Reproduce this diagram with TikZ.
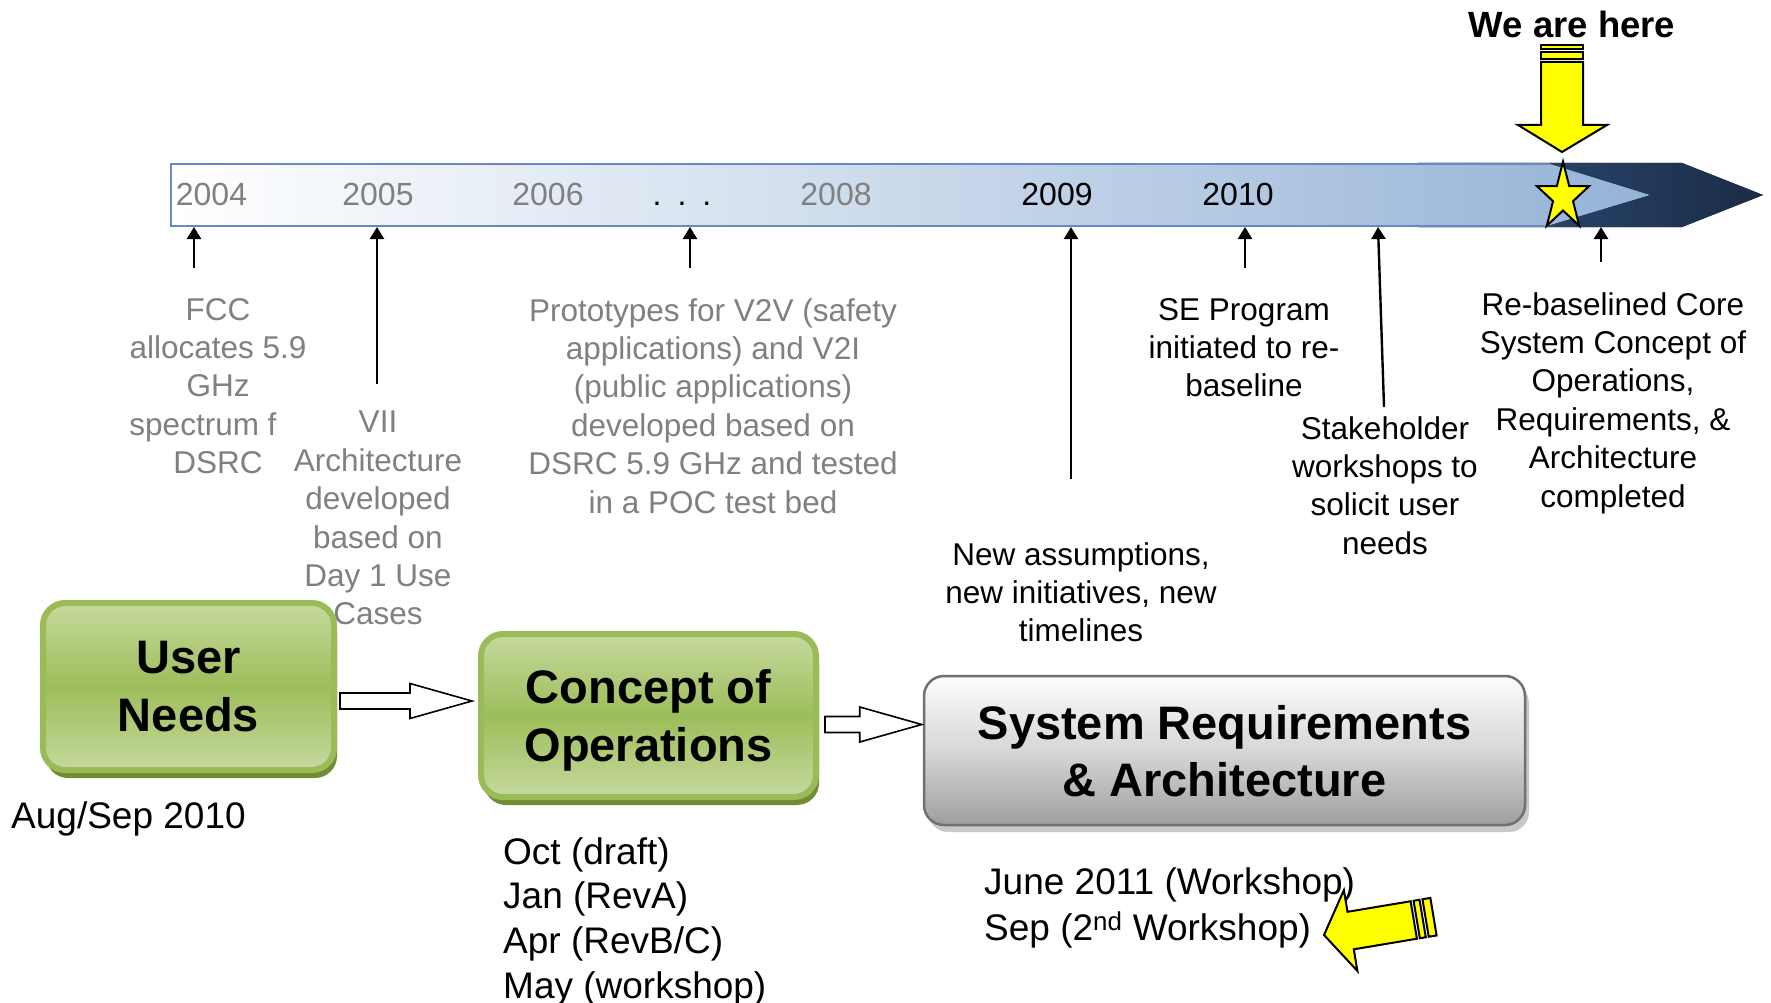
\documentclass[tikz,border=0pt]{standalone}
\usepackage{fontspec}
\setmainfont{Liberation Sans}
\usetikzlibrary{calc,arrows.meta,shadows}

\definecolor{yeargray}{RGB}{128,128,128}
\definecolor{barblue}{RGB}{149,179,215}
\definecolor{baredge}{RGB}{105,138,188}
\definecolor{darkleft}{RGB}{46,80,125}
\definecolor{darkright}{RGB}{27,44,70}
\definecolor{greenedge}{RGB}{155,187,89}
\definecolor{greenlight}{RGB}{198,217,157}
\definecolor{greenmid}{RGB}{157,189,90}
\definecolor{greenshadow}{RGB}{112,140,52}
\definecolor{boxgray}{RGB}{112,112,112}
\definecolor{graytop}{RGB}{252,252,252}
\definecolor{graymid}{RGB}{215,215,215}
\definecolor{graybottom}{RGB}{158,158,158}
\definecolor{grayshadow}{RGB}{200,200,200}
\definecolor{markyellow}{RGB}{255,255,0}

% hollow block arrow from start coordinate #1 to tip coordinate #2
\newcommand\hollowarr[2]{%
  \draw[hollow] ($(#1)+(0,-8)$) -- ($(#2)+(-62,-8)$) -- ($(#2)+(-62,-17.5)$)
    -- (#2) -- ($(#2)+(-62,17.5)$) -- ($(#2)+(-62,8)$) -- ($(#1)+(0,8)$) -- cycle;}

\begin{document}
\begin{tikzpicture}[x=1pt,y=-1pt,
  lbl/.style={inner sep=0pt, align=center, font=\fontsize{31.5}{38.4}\selectfont},
  dimlbl/.style={lbl, text=yeargray},
  yearlbl/.style={inner sep=0pt, anchor=base, font=\fontsize{32}{38}\selectfont},
  uparrow/.style={line width=2.4pt, -{Triangle[width=14pt,length=12pt]}},
  hollow/.style={draw=black, fill=white, line width=1.6pt, line join=miter},
  yellowshape/.style={draw=black, fill=markyellow, line width=2pt, line join=miter},
  datelbl/.style={inner sep=0pt, align=left, font=\fontsize{37}{44.7}\selectfont},
  greenbox/.style={rounded corners=22pt, draw=greenedge, line width=6pt,
    top color=greenlight, bottom color=greenlight, middle color=greenmid,
    inner sep=0pt, align=center, text depth=0pt,
    execute at begin node={\rule{0pt}{42pt}},
    font=\fontsize{47}{58}\selectfont\bfseries,
    drop shadow={shadow xshift=3pt, shadow yshift=-8pt, fill=greenshadow, opacity=1}},
  graybox/.style={rounded corners=20pt, draw=boxgray, line width=2.5pt,
    top color=graytop, bottom color=graybottom, middle color=graymid,
    inner sep=0pt, align=center, text depth=0pt,
    font=\fontsize{47}{57}\selectfont\bfseries,
    drop shadow={shadow xshift=4pt, shadow yshift=-7pt, fill=grayshadow, opacity=1}}
]
\useasboundingbox (0,0) rectangle (1771,1003);
\fill[white] (0,0) rectangle (1771,1003);

% ---- timeline bar ----
\fill[left color=darkleft, right color=darkright]
  (1418,163) -- (1682,163) -- (1763,195) -- (1682,227) -- (1418,227) -- cycle;
\fill[left color=white, right color=barblue]
  (171,164) -- (1550,164) -- (1650,195) -- (1547,226) -- (171,226) -- cycle;
\draw[baredge, line width=1.2pt] (1550,164) -- (171,164) -- (171,226) -- (1547,226);

% year marks
\node[yearlbl, text=yeargray] (y04) at (211.5,205.5) {2004};
\node[yearlbl, text=yeargray] (y05) at (378,205.5) {2005};
\node[yearlbl, text=yeargray] (y06) at (548,205.5) {2006};
\node[yearlbl] (ydots) at (682,205.5) {.\hspace{0.5em}.\hspace{0.5em}.};
\node[yearlbl, text=yeargray] (y08) at (836,205.5) {2008};
\node[yearlbl] (y09) at (1057,205.5) {2009};
\node[yearlbl] (y10) at (1238,205.5) {2010};

% ---- "we are here" marker ----
\node[inner sep=0pt, anchor=base, font=\fontsize{36.5}{44}\selectfont\bfseries] (here) at (1572,38) {We are here};
\draw[yellowshape] (1541,45) rectangle (1583,49);
\draw[yellowshape] (1541,52) rectangle (1583,59);
\draw[yellowshape] (1541,62) -- (1583,62) -- (1583,125) -- (1607,125) -- (1562,152)
  -- (1518,125) -- (1541,125) -- cycle;
\begin{scope}[shift={(1563,197)}, x=27.5pt, y=-35.4pt]
  \draw[yellowshape] (270:1) -- (306:0.382) -- (342:1) -- (18:0.382) -- (54:1)
    -- (90:0.382) -- (126:1) -- (162:0.382) -- (198:1) -- (234:0.382) -- cycle;
\end{scope}

% ---- milestone notes ----
\node[dimlbl, anchor=north] (fcc) at (218,298) {FCC\\allocates 5.9\\GHz\\\mbox{spectrum f\kern30pt}\\DSRC};
\node[dimlbl, anchor=north] (vii) at (378,411) {VII\\Architecture\\developed\\based on\\Day 1 Use\\Cases};
\node[dimlbl, anchor=north] (proto) at (713,298) {Prototypes for V2V (safety\\applications) and V2I\\(public applications)\\developed based on\\DSRC 5.9 GHz and tested\\in a POC test bed};
\node[lbl, anchor=north] (newas) at (1081,542) {New assumptions,\\new initiatives, new\\timelines};
\node[lbl, anchor=north] (sepr) at (1244,298) {SE Program\\initiated to re-\\baseline};
\node[lbl, anchor=north] (stake) at (1385,416) {Stakeholder\\workshops to\\solicit user\\needs};
\node[lbl, anchor=north] (rebase) at (1613,292) {Re-baselined Core\\System Concept of\\Operations,\\Requirements, \&\\Architecture\\completed};

% pointer ends on the bar and below it
\coordinate (b04) at (194,227);  \coordinate (t04) at (194,268);
\coordinate (b05) at (377,227);  \coordinate (t05) at (377,384);
\coordinate (b06) at (690,227);  \coordinate (t06) at (690,268);
\coordinate (b09) at (1071,227); \coordinate (t09) at (1071,479);
\coordinate (b10) at (1245,227); \coordinate (t10) at (1245,268);
\coordinate (bsh) at (1378,227); \coordinate (tsh) at (1384,407);
\coordinate (bre) at (1601,227); \coordinate (tre) at (1601,262);
\foreach \m in {04,05,06,09,10,sh,re}
  \draw[uparrow] (t\m) -- (b\m);

% ---- process boxes ----
\node[greenbox, minimum width=291pt, minimum height=167pt] (un) at (188.5,686.5) {User\\Needs};
\node[greenbox, minimum width=335pt, minimum height=163pt] (co) at (648.5,715.5) {Concept of\\Operations};
\node[graybox, minimum width=601pt, minimum height=149pt] (sr) at (1224.5,750.5) {System Requirements\\\& Architecture};

\coordinate (h1s) at ($(un.east)+(3,14.5)$);
\coordinate (h1t) at ($(co.west)+(-6,-14.5)$);
\coordinate (h2s) at ($(co.east)+(6,9)$);
\coordinate (h2t) at ($(sr.west)+(-1,-26)$);
\hollowarr{h1s}{h1t}
\hollowarr{h2s}{h2t}

% ---- dates ----
\node[anchor=base west, inner sep=0pt, font=\fontsize{37}{45}\selectfont] (aug) at (11,828) {Aug/Sep 2010};
\node[datelbl, anchor=north west] (codates) at (503,837) {Oct (draft)\\Jan (RevA)\\Apr (RevB/C)\\May (workshop)};
\node[datelbl, anchor=north west, font=\fontsize{37}{46}\selectfont] (srdates) at (984,867) {June 2011 (Workshop)\\Sep (2\textsuperscript{nd} Workshop)};

% ---- pointer to the workshop dates ----
\begin{scope}[shift={(1324,935)}, rotate=9.5]
  \draw[yellowshape] (0,0) -- (27,-41) -- (27,-19) -- (91,-19) -- (91,19) -- (27,19) -- (27,41) -- cycle;
  \draw[yellowshape] (94,-19) rectangle (100,19);
  \draw[yellowshape] (103,-19) rectangle (111,19);
\end{scope}
\end{tikzpicture}
\end{document}
